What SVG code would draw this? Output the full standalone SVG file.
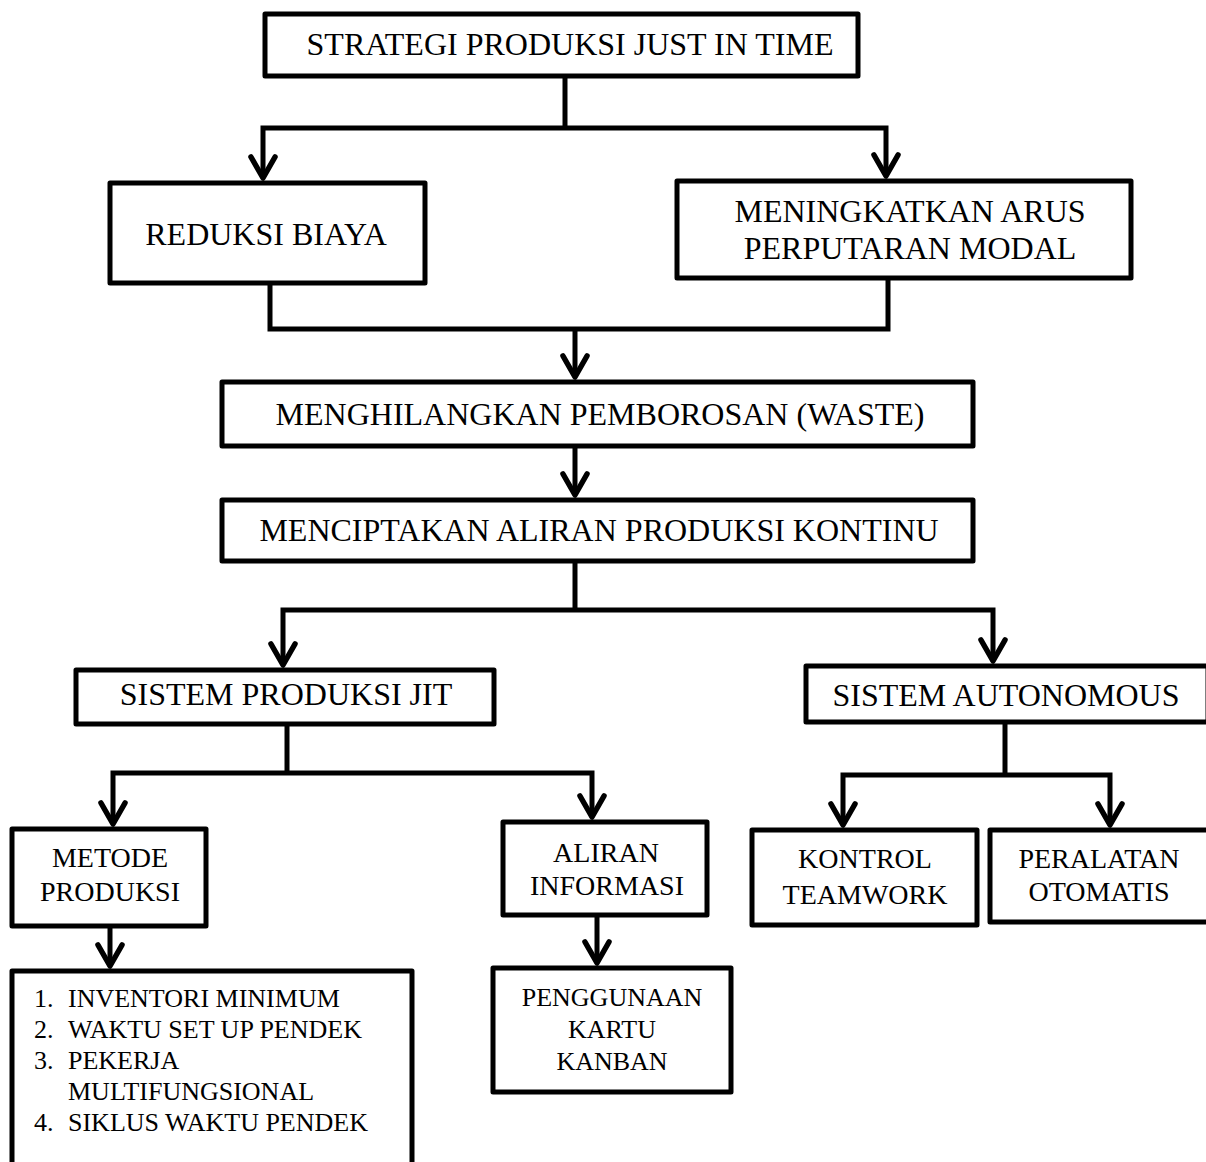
<svg xmlns="http://www.w3.org/2000/svg" width="1206" height="1162" viewBox="0 0 1206 1162">
<style>
.box{fill:#fff;stroke:#000;stroke-width:5;stroke-linejoin:round}
.t{font-family:"Liberation Serif","Times New Roman",serif;fill:#000;text-anchor:middle}
.big{font-size:32px}
.mid{font-size:28px}
.sm{font-size:26px}
.l{text-anchor:start}
.c{fill:none;stroke:#000;stroke-width:5;stroke-linejoin:miter;stroke-linecap:butt}
</style>
<defs>
<marker id="arr" markerUnits="userSpaceOnUse" orient="auto-start-reverse" markerWidth="40" markerHeight="40" refX="0" refY="0" style="overflow:visible">
<path d="M-21,-12 L0,0 L-21,12" fill="none" stroke="#000" stroke-width="5.5" stroke-linejoin="round" stroke-linecap="round"/>
</marker>
</defs>
<rect width="1206" height="1162" fill="#fff"/>
<g id="connectors">
<path class="c" d="M565,76 V128"/>
<path class="c" d="M263,178 V128 H886 V176" marker-start="url(#arr)" marker-end="url(#arr)"/>
<path class="c" d="M270,283 V329 H888 V278"/>
<path class="c" d="M575,329 V377" marker-end="url(#arr)"/>
<path class="c" d="M575,446 V495" marker-end="url(#arr)"/>
<path class="c" d="M575,561 V610"/>
<path class="c" d="M283,665 V610 H993 V661" marker-start="url(#arr)" marker-end="url(#arr)"/>
<path class="c" d="M287,724 V773"/>
<path class="c" d="M113,824 V773 H592 V817" marker-start="url(#arr)" marker-end="url(#arr)"/>
<path class="c" d="M1005,722 V775"/>
<path class="c" d="M843,825 V775 H1110 V825" marker-start="url(#arr)" marker-end="url(#arr)"/>
<path class="c" d="M110,926 V966" marker-end="url(#arr)"/>
<path class="c" d="M597,915 V963" marker-end="url(#arr)"/>
</g>
<g id="n-title"><rect class="box" x="265" y="14" width="593" height="62"/><text class="t big" x="570" y="55">STRATEGI PRODUKSI JUST IN TIME</text></g>
<g id="n-reduksi"><rect class="box" x="110" y="183" width="315" height="100"/><text class="t big" x="266" y="245">REDUKSI BIAYA</text></g>
<g id="n-modal"><rect class="box" x="677" y="181" width="454" height="97"/><text class="t big" x="910" y="222">MENINGKATKAN ARUS</text><text class="t big" x="910" y="259">PERPUTARAN MODAL</text></g>
<g id="n-waste"><rect class="box" x="222" y="382" width="751" height="64"/><text class="t big" x="600" y="425">MENGHILANGKAN PEMBOROSAN (WASTE)</text></g>
<g id="n-kontinu"><rect class="box" x="222" y="500" width="751" height="61"/><text class="t big" x="599" y="541">MENCIPTAKAN ALIRAN PRODUKSI KONTINU</text></g>
<g id="n-jit"><rect class="box" x="76" y="670" width="418" height="54"/><text class="t big" x="286" y="705">SISTEM PRODUKSI JIT</text></g>
<g id="n-autonomous"><rect class="box" x="806" y="666" width="402" height="56"/><text class="t big" x="1006" y="706">SISTEM AUTONOMOUS</text></g>
<g id="n-metode"><rect class="box" x="12" y="829" width="194" height="97"/><text class="t mid" x="110" y="867">METODE</text><text class="t mid" x="110" y="901">PRODUKSI</text></g>
<g id="n-aliran"><rect class="box" x="503" y="822" width="204" height="93"/><text class="t mid" x="606" y="862">ALIRAN</text><text class="t mid" x="607" y="895">INFORMASI</text></g>
<g id="n-kontrol"><rect class="box" x="752" y="830" width="225" height="95"/><text class="t mid" x="865" y="868">KONTROL</text><text class="t mid" x="865" y="904">TEAMWORK</text></g>
<g id="n-peralatan"><rect class="box" x="990" y="830" width="220" height="92"/><text class="t mid" x="1099" y="868">PERALATAN</text><text class="t mid" x="1099" y="901">OTOMATIS</text></g>
<g id="n-list"><rect class="box" x="12" y="971" width="400" height="200"/>
<text class="t sm l" x="34" y="1007">1.</text><text class="t sm l" x="68" y="1007">INVENTORI MINIMUM</text>
<text class="t sm l" x="34" y="1038">2.</text><text class="t sm l" x="68" y="1038">WAKTU SET UP PENDEK</text>
<text class="t sm l" x="34" y="1069">3.</text><text class="t sm l" x="68" y="1069">PEKERJA</text>
<text class="t sm l" x="68" y="1100">MULTIFUNGSIONAL</text>
<text class="t sm l" x="34" y="1131">4.</text><text class="t sm l" x="68" y="1131">SIKLUS WAKTU PENDEK</text>
</g>
<g id="n-kanban"><rect class="box" x="493" y="968" width="238" height="124"/><text class="t sm" x="612" y="1006">PENGGUNAAN</text><text class="t sm" x="612" y="1038">KARTU</text><text class="t sm" x="612" y="1070">KANBAN</text></g>
</svg>
